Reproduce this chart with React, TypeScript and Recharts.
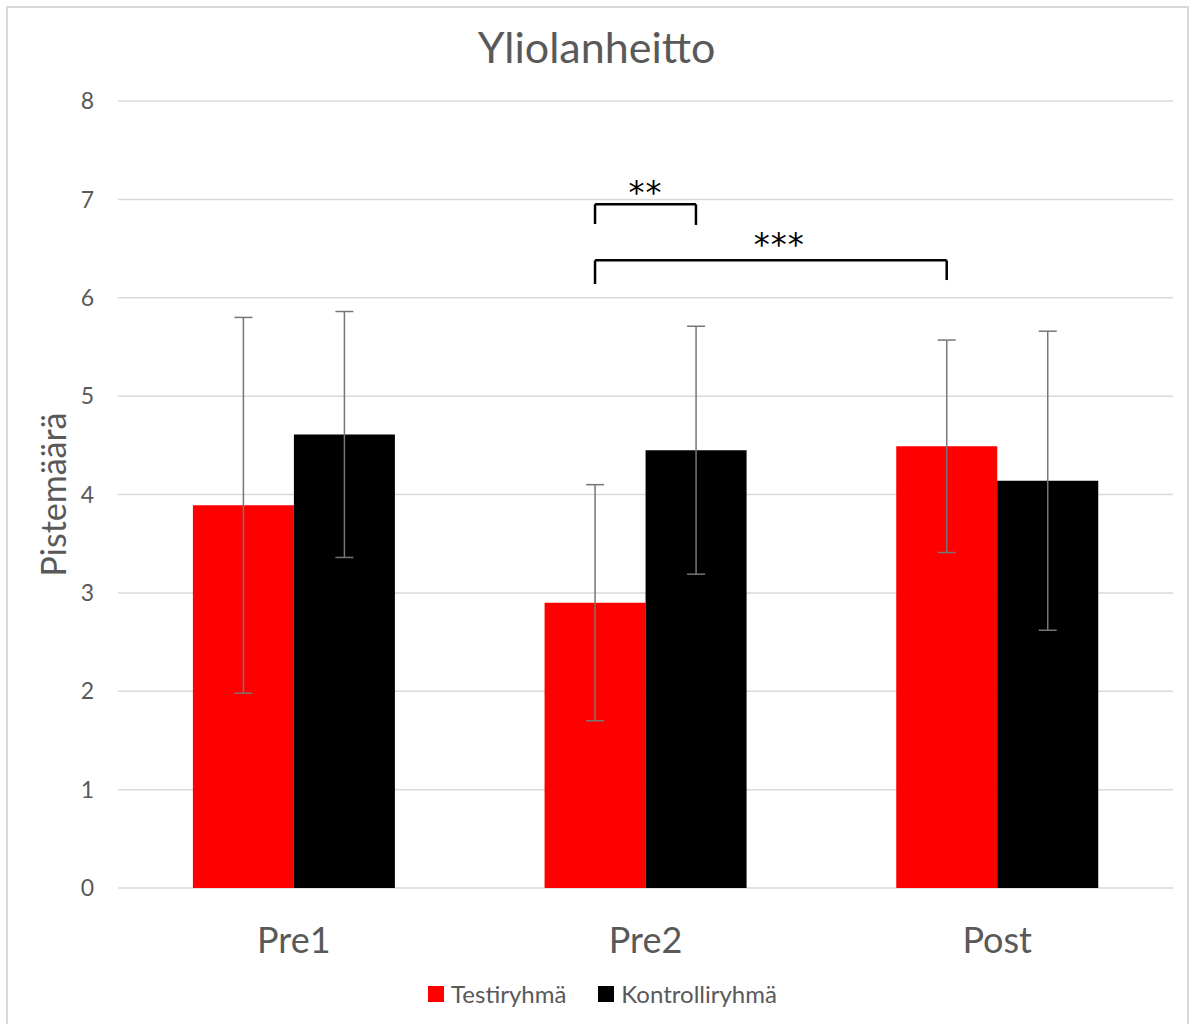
import React from 'react';
import {
  ComposedChart,
  Bar,
  ErrorBar,
  XAxis,
  YAxis,
  CartesianGrid,
  Legend,
  ReferenceLine,
  Scatter,
} from 'recharts';

const phases = ['Pre1', 'Pre2', 'Post'];
const seriesNames = ['Testiryhmä', 'Kontrolliryhmä'];
const testiMean = [3.89, 2.9, 4.49];
const testiSd = [1.91, 1.2, 1.08];
const kontrolliMean = [4.61, 4.45, 4.14];
const kontrolliSd = [1.25, 1.26, 1.52];
const yTicks = [0, 1, 2, 3, 4, 5, 6, 7, 8];

// significance brackets between bars: [phase index, series index] at each end
const bracketFrom = [[1, 0], [1, 0]];
const bracketTo = [[1, 1], [2, 0]];
const bracketTop = [6.95, 6.38];
const bracketFromEnd = [6.75, 6.14];
const bracketToEnd = [6.74, 6.18];
const starText = ['**', '***'];
const starX = [1.5, 1.88];
const starY = [7.14, 6.61];

const WIDTH = 1193;
const HEIGHT = 1024;
const GAP = 0.213; // barCategoryGap as a fraction of the band
const BAR = (1 - 2 * GAP) / 2;
const FONT = 'Lato, "Open Sans", sans-serif';
const TEXT = '#595959';

const rows = phases.map((phase, i) => ({
  phase,
  testi: testiMean[i],
  testiSd: testiSd[i],
  kontrolli: kontrolliMean[i],
  kontrolliSd: kontrolliSd[i],
}));

// position of a bar centre on the hidden 0..3 numeric axis
const barCenter = ([phase, series]: number[]) => phase + GAP + BAR * (series + 0.5);

const brackets = bracketFrom.map((from, i) => ({
  x1: barCenter(from),
  x2: barCenter(bracketTo[i]),
  y: bracketTop[i],
  y1: bracketFromEnd[i],
  y2: bracketToEnd[i],
}));

const stars = starText.map((text, i) => ({ text, x: starX[i], y: starY[i] }));

const StarShape = (props: any) => {
  const { cx, cy, payload } = props;
  return (
    <text
      x={cx}
      y={cy}
      dy={17}
      textAnchor="middle"
      fontFamily='"DejaVu Sans", sans-serif'
      fontSize={32}
      letterSpacing={1}
      fill="#000"
    >
      {payload.text}
    </text>
  );
};

const YLabel = (props: any) => {
  const { viewBox } = props;
  const cx = viewBox.x + 32;
  const cy = viewBox.y + viewBox.height / 2;
  return (
    <text
      x={cx}
      y={cy}
      transform={`rotate(-90 ${cx} ${cy})`}
      textAnchor="middle"
      dominantBaseline="central"
      fontFamily={FONT}
      fontSize={34}
      fill={TEXT}
    >
      Pistemäärä
    </text>
  );
};

const renderLegend = (props: any) => {
  const items = (props.payload || [])
    .filter((entry: any) => seriesNames.includes(entry.value))
    .sort((a: any, b: any) => seriesNames.indexOf(a.value) - seriesNames.indexOf(b.value));
  return (
    <div
      style={{
        display: 'flex',
        justifyContent: 'center',
        gap: 32,
        fontFamily: FONT,
        fontSize: 24,
        color: TEXT,
        paddingLeft: 12,
      }}
    >
      {items.map((entry: any) => (
        <span key={entry.value} style={{ display: 'flex', alignItems: 'center' }}>
          <span
            style={{
              display: 'inline-block',
              width: 16,
              height: 16,
              background: entry.color,
              marginRight: 7,
            }}
          />
          {entry.value}
        </span>
      ))}
    </div>
  );
};

export default function App() {
  return (
    <div
      style={{
        position: 'absolute',
        left: 0,
        top: 0,
        width: WIDTH,
        height: HEIGHT,
        background: '#fff',
        overflow: 'hidden',
      }}
    >
      <div
        style={{
          position: 'absolute',
          left: 6,
          top: 6,
          width: WIDTH - 14,
          height: HEIGHT,
          border: '2px solid #d9d9d9',
        }}
      />
      <div style={{ position: 'absolute', left: 0, top: 0 }}>
        <ComposedChart
          width={WIDTH}
          height={HEIGHT}
          data={rows}
          margin={{ top: 101, right: 20, left: 20, bottom: 5 }}
          barCategoryGap={`${GAP * 100}%`}
          barGap={0}
        >
          <text
            x={WIDTH / 2}
            y={63}
            textAnchor="middle"
            fontFamily={FONT}
            fontSize={43}
            fill={TEXT}
          >
            Yliolanheitto
          </text>
          <CartesianGrid vertical={false} stroke="#d9d9d9" strokeWidth={1.5} />
          <XAxis
            xAxisId="cat"
            dataKey="phase"
            axisLine={false}
            tickLine={false}
            tickSize={0}
            tickMargin={39}
            height={91}
            tick={{ fontFamily: FONT, fontSize: 36, fill: TEXT }}
          />
          <XAxis xAxisId="pos" type="number" dataKey="x" domain={[0, 3]} hide allowDataOverflow />
          <YAxis
            domain={[0, 8]}
            ticks={yTicks}
            axisLine={false}
            tickLine={false}
            tickSize={0}
            tickMargin={24}
            width={98}
            tick={{ fontFamily: FONT, fontSize: 23, fill: TEXT }}
            label={<YLabel />}
          />
          <Legend verticalAlign="bottom" height={40} content={renderLegend} />
          <Bar xAxisId="cat" dataKey="testi" name={seriesNames[0]} fill="#ff0000" isAnimationActive={false}>
            <ErrorBar dataKey="testiSd" width={9} stroke="#767676" strokeWidth={1.5} />
          </Bar>
          <Bar xAxisId="cat" dataKey="kontrolli" name={seriesNames[1]} fill="#000000" isAnimationActive={false}>
            <ErrorBar dataKey="kontrolliSd" width={9} stroke="#767676" strokeWidth={1.5} />
          </Bar>
          {brackets.map((b, i) => (
            <React.Fragment key={i}>
              <ReferenceLine
                xAxisId="pos"
                segment={[{ x: b.x1, y: b.y1 }, { x: b.x1, y: b.y }]}
                stroke="#000"
                strokeWidth={2.5}
              />
              <ReferenceLine
                xAxisId="pos"
                segment={[{ x: b.x1, y: b.y }, { x: b.x2, y: b.y }]}
                stroke="#000"
                strokeWidth={2.5}
              />
              <ReferenceLine
                xAxisId="pos"
                segment={[{ x: b.x2, y: b.y }, { x: b.x2, y: b.y2 }]}
                stroke="#000"
                strokeWidth={2.5}
              />
            </React.Fragment>
          ))}
          <Scatter
            xAxisId="pos"
            data={stars}
            dataKey="y"
            legendType="none"
            shape={<StarShape />}
            isAnimationActive={false}
          />
        </ComposedChart>
      </div>
    </div>
  );
}
